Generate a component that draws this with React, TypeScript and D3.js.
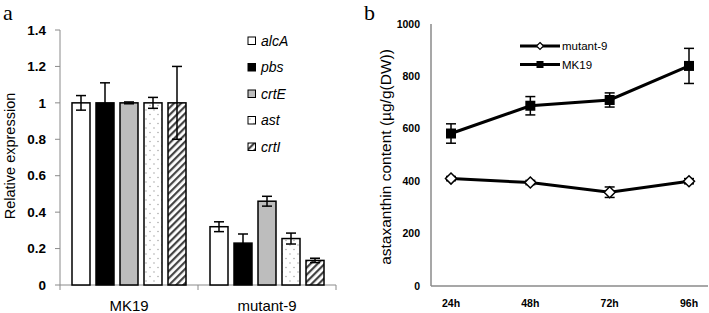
import React from "react";
import * as d3 from "d3";

// ---------- Panel a data ----------
const groups = ["MK19", "mutant-9"];
const genes = ["alcA", "pbs", "crtE", "ast", "crtI"];
const geneLabels = ["alcA", "pbs", "crtE", "ast", "crtI"];
const mk19Expr = [1.0, 1.0, 1.0, 1.0, 1.0];
const mk19Err = [0.04, 0.11, 0.005, 0.03, 0.2];
const mutExpr = [0.32, 0.23, 0.46, 0.255, 0.135];
const mutErr = [0.027, 0.05, 0.027, 0.03, 0.012];
const exprTicks = [0, 0.2, 0.4, 0.6, 0.8, 1, 1.2, 1.4];
const exprTickLabels = ["0", "0.2", "0.4", "0.6", "0.8", "1", "1.2", "1.4"];

// ---------- Panel b data ----------
const times = ["24h", "48h", "72h", "96h"];
const mk19Asta = [582, 688, 710, 840];
const mk19AstaErr = [37, 35, 27, 67];
const mutAsta = [410, 395, 358, 400];
const mutAstaErr = [8, 8, 20, 10];
const astaTicks = [0, 200, 400, 600, 800, 1000];

const axisGrey = "#8a8a8a";
const font = "'Liberation Sans', Arial, sans-serif";

function fillFor(gene: string) {
  switch (gene) {
    case "alcA": return "#ffffff";
    case "pbs": return "#000000";
    case "crtE": return "#bdbdbd";
    case "ast": return "url(#dots)";
    default: return "url(#hatch)";
  }
}

export default function App() {
  // Panel a scales
  const xGroup = d3.scaleBand<string>().domain(groups).range([60, 336]);
  const xGene = d3
    .scaleBand<string>()
    .domain(genes)
    .range([0, xGroup.bandwidth()])
    .paddingInner(0.25)
    .paddingOuter(0.5);
  const yA = d3.scaleLinear().domain([0, 1.4]).range([285, 30]);

  const seriesA = [
    { g: "MK19", v: mk19Expr, e: mk19Err },
    { g: "mutant-9", v: mutExpr, e: mutErr },
  ];

  // Panel b scales
  const xT = d3.scalePoint<string>().domain(times).range([451, 689]);
  const yB = d3.scaleLinear().domain([0, 1000]).range([286, 24]);
  const line = d3
    .line<number>()
    .x((_, i) => xT(times[i]) as number)
    .y((d) => yB(d));

  const bw = xGene.bandwidth();

  return (
    <svg
      width={709}
      height={313}
      style={{ position: "absolute", left: 0, top: 0, background: "#fff" }}
      fontFamily={font}
    >
      <defs>
        <pattern id="dots" width={8} height={9} patternUnits="userSpaceOnUse">
          <rect width={8} height={9} fill="#fff" />
          <circle cx={2} cy={2} r={0.7} fill="#9a9a9a" />
          <circle cx={6} cy={6.5} r={0.7} fill="#9a9a9a" />
        </pattern>
        <pattern
          id="hatch"
          width={5}
          height={5}
          patternUnits="userSpaceOnUse"
          patternTransform="rotate(45)"
        >
          <rect width={5} height={5} fill="#fff" />
          <rect width={2.2} height={5} fill="#444" />
        </pattern>
      </defs>
      <rect width={709} height={313} fill="#fff" />

      {/* Panel labels */}
      <text x={3} y={20} fontFamily="'Liberation Serif', serif" fontSize={22}>a</text>
      <text x={364} y={20} fontFamily="'Liberation Serif', serif" fontSize={22}>b</text>

      {/* ===== Panel a ===== */}
      <line x1={60} x2={60} y1={yA(1.4)} y2={yA(0)} stroke={axisGrey} strokeWidth={1} />
      <line x1={60} x2={336} y1={yA(0)} y2={yA(0)} stroke={axisGrey} strokeWidth={1} />
      {exprTicks.map((t, i) => (
        <g key={"ta" + i}>
          <line x1={55} x2={60} y1={yA(t)} y2={yA(t)} stroke={axisGrey} />
          <text x={46} y={yA(t)} dy="0.35em" textAnchor="end" fontSize={13.5} fontWeight="bold">
            {exprTickLabels[i]}
          </text>
        </g>
      ))}
      {[60, 60 + xGroup.bandwidth(), 336].map((x, i) => (
        <line key={"xt" + i} x1={x} x2={x} y1={yA(0)} y2={yA(0) + 5} stroke={axisGrey} />
      ))}
      {groups.map((g) => (
        <text
          key={g}
          x={(xGroup(g) as number) + xGroup.bandwidth() / 2}
          y={311}
          textAnchor="middle"
          fontSize={15}
        >
          {g}
        </text>
      ))}
      <text
        transform={`translate(15,156) rotate(-90)`}
        textAnchor="middle"
        fontSize={14.5}
      >
        Relative expression
      </text>

      {seriesA.map((s) =>
        genes.map((gene, i) => {
          const x = (xGroup(s.g) as number) + (xGene(gene) as number);
          const cx = x + bw / 2;
          const v = s.v[i];
          const e = s.e[i];
          return (
            <g key={s.g + gene}>
              <rect
                x={x}
                y={yA(v)}
                width={bw}
                height={yA(0) - yA(v)}
                fill={fillFor(gene)}
                stroke="#000"
                strokeWidth={1.5}
              />
              <line x1={cx} x2={cx} y1={yA(v + e)} y2={yA(v - e)} stroke="#000" strokeWidth={1.5} />
              <line x1={cx - 5} x2={cx + 5} y1={yA(v + e)} y2={yA(v + e)} stroke="#000" strokeWidth={1.5} />
              <line x1={cx - 5} x2={cx + 5} y1={yA(v - e)} y2={yA(v - e)} stroke="#000" strokeWidth={1.5} />
            </g>
          );
        })
      )}

      {/* Legend a */}
      {genes.map((gene, i) => {
        const y = 41 + i * 26.5;
        return (
          <g key={"lg" + gene}>
            <rect x={248} y={y - 4} width={7.5} height={7.5} fill={fillFor(gene)} stroke="#000" strokeWidth={1} />
            <text x={261} y={y} dy="0.35em" fontSize={14} fontStyle="italic">
              {geneLabels[i]}
            </text>
          </g>
        );
      })}

      {/* ===== Panel b ===== */}
      <line x1={431} x2={431} y1={yB(1000)} y2={yB(0)} stroke={axisGrey} strokeWidth={1.5} />
      <line x1={431} x2={708} y1={yB(0)} y2={yB(0)} stroke={axisGrey} strokeWidth={1.5} />
      {astaTicks.map((t) => (
        <text key={"tb" + t} x={420} y={yB(t)} dy="0.35em" textAnchor="end" fontSize={10.5} fontWeight="bold">
          {t}
        </text>
      ))}
      {times.map((t) => (
        <text key={t} x={xT(t) as number} y={307} textAnchor="middle" fontSize={10.5} fontWeight="bold">
          {t}
        </text>
      ))}
      <text
        transform={`translate(391,157) rotate(-90)`}
        textAnchor="middle"
        fontSize={15.5}
      >
        astaxanthin content (µg/g(DW))
      </text>

      <path d={line(mk19Asta) as string} fill="none" stroke="#000" strokeWidth={3} />
      <path d={line(mutAsta) as string} fill="none" stroke="#000" strokeWidth={3} />

      {[
        { v: mk19Asta, e: mk19AstaErr },
        { v: mutAsta, e: mutAstaErr },
      ].map((s, si) =>
        s.v.map((v, i) => {
          const cx = xT(times[i]) as number;
          const e = s.e[i];
          return (
            <g key={"eb" + si + i}>
              <line x1={cx} x2={cx} y1={yB(v + e)} y2={yB(v - e)} stroke="#000" strokeWidth={1.5} />
              <line x1={cx - 5} x2={cx + 5} y1={yB(v + e)} y2={yB(v + e)} stroke="#000" strokeWidth={1.5} />
              <line x1={cx - 5} x2={cx + 5} y1={yB(v - e)} y2={yB(v - e)} stroke="#000" strokeWidth={1.5} />
            </g>
          );
        })
      )}

      {mk19Asta.map((v, i) => {
        const cx = xT(times[i]) as number;
        return <rect key={"sq" + i} x={cx - 5} y={yB(v) - 5} width={10} height={10} fill="#000" />;
      })}
      {mutAsta.map((v, i) => {
        const cx = xT(times[i]) as number;
        const cy = yB(v);
        return (
          <path
            key={"dm" + i}
            d={`M${cx},${cy - 5.5}L${cx + 5.5},${cy}L${cx},${cy + 5.5}L${cx - 5.5},${cy}Z`}
            fill="#fff"
            stroke="#000"
            strokeWidth={1.5}
          />
        );
      })}

      {/* Legend b */}
      <line x1={520} x2={560} y1={46} y2={46} stroke="#000" strokeWidth={3} />
      <path d="M540,42.5L543.5,46L540,49.5L536.5,46Z" fill="#fff" stroke="#000" strokeWidth={1.2} />
      <text x={562} y={46} dy="0.35em" fontSize={11.5}>mutant-9</text>
      <line x1={520} x2={560} y1={64.5} y2={64.5} stroke="#000" strokeWidth={3} />
      <rect x={536.5} y={61} width={7} height={7} fill="#000" />
      <text x={562} y={64.5} dy="0.35em" fontSize={11.5}>MK19</text>
    </svg>
  );
}
